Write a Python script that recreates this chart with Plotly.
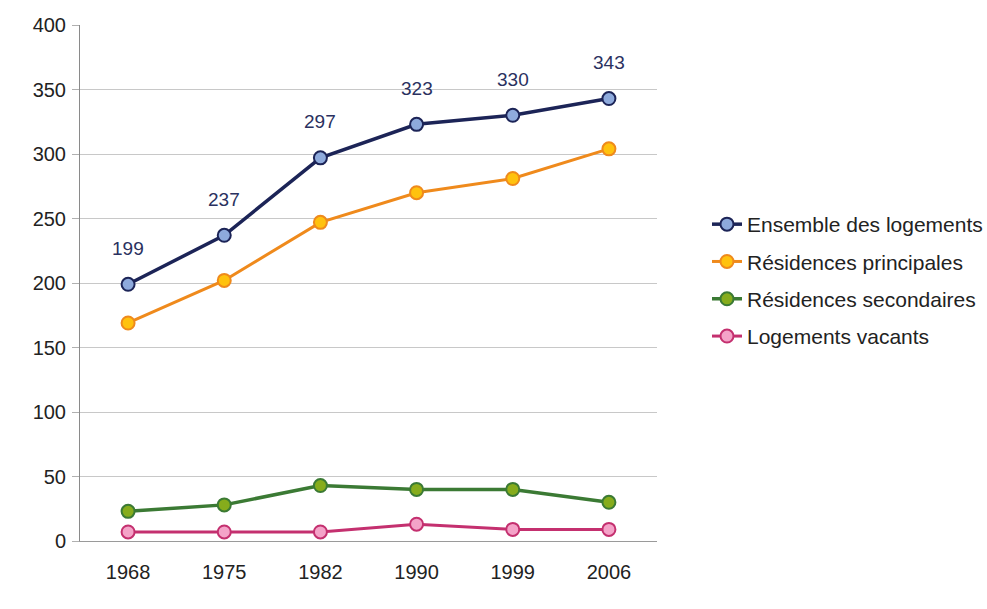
import plotly.graph_objects as go

years = ["1968", "1975", "1982", "1990", "1999", "2006"]
ensemble = [199, 237, 297, 323, 330, 343]
principales = [169, 202, 247, 270, 281, 304]
secondaires = [23, 28, 43, 40, 40, 30]
vacants = [7, 7, 7, 13, 9, 9]

series = [
    ("Ensemble des logements", ensemble, "#1c2457", "#8eaadc", 3.5),
    ("Résidences principales", principales, "#ef8a1c", "#ffc20e", 3),
    ("Résidences secondaires", secondaires, "#3b7a34", "#86ac1c", 3.5),
    ("Logements vacants", vacants, "#c4306f", "#f4a3c8", 3),
]

FONT = "Liberation Sans, Arial"

fig = go.Figure()
for i, (name, vals, lc, mc, lw) in enumerate(series):
    fig.add_trace(go.Scatter(
        x=years, y=vals, name=name, mode="lines+markers",
        legendgroup=f"g{i}",
        line=dict(color=lc, width=lw),
        marker=dict(size=13, color=mc, line=dict(color=lc, width=2)),
    ))

for idx, v in enumerate(ensemble):
    fig.add_annotation(x=idx, y=v, xref="x", yref="y", text=str(v), showarrow=False,
                       yshift=36,
                       font=dict(family=FONT, size=19, color="#2a3160"))

fig.update_layout(
    width=987, height=609,
    margin=dict(l=80, r=330, t=25, b=68),
    paper_bgcolor="white", plot_bgcolor="white",
    font=dict(family=FONT, size=20, color="#222222"),
    legend=dict(xref="container", yref="container", x=0.7163, y=0.665,
                xanchor="left", yanchor="top", tracegroupgap=7,
                font=dict(family=FONT, size=21, color="#222222"), bgcolor="rgba(0,0,0,0)"),
    showlegend=True,
)
fig.update_xaxes(type="category", range=[-0.5, 5.5], showgrid=False, showline=True,
                 linecolor="#9a9a9a", linewidth=1, ticks="", ticklabelstandoff=13,
                 tickfont=dict(family=FONT, size=20, color="#222222"))
fig.update_yaxes(range=[0, 400], dtick=50, showgrid=True, gridcolor="#c8c8c8", gridwidth=1,
                 showline=True, linecolor="#8a8a8a", linewidth=1, ticks="outside",
                 ticklen=7, tickcolor="#b0b0b0", ticklabelstandoff=2,
                 tickfont=dict(family=FONT, size=20, color="#222222"),
                 zeroline=False)

fig.write_html("out.html")
